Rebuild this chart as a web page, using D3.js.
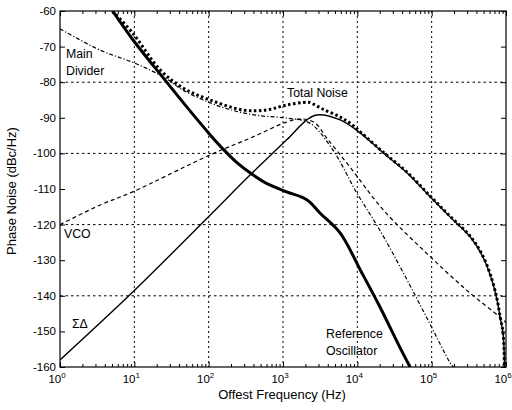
<!DOCTYPE html>
<html>
<head>
<meta charset="utf-8">
<script src="https://cdn.jsdelivr.net/npm/d3@7"></script>
<style>
  body { margin: 0; background: #fff; }
  text { font-family: "Liberation Sans", Arial, sans-serif; fill: #000; }
</style>
</head>
<body>
<div id="viz"></div>
<script>
// values: [offset frequency in Hz, phase noise in dBc/Hz]
var refOsc = [[5.1,-60],[9.5,-68],[24.5,-78.8],[51,-87],[105,-94.8],[160,-99],[240,-102.6],
  [380,-105.8],[600,-108.4],[1120,-110.8],[2090,-113],[3160,-116.8],[5890,-122.4],[11000,-132.8],
  [20000,-143],[37200,-154.4],[51300,-160]];
var totalNoise = [[5.1,-60],[9.5,-66.2],[22.4,-76.6],[45.7,-81.7],[105,-85],[288,-87.8],[603,-87.8],
  [1120,-86.4],[2090,-85.6],[2290,-85.7],[3470,-87.6],[5890,-89.8],[8000,-91.5],[11000,-94],
  [22400,-99.7],[46800,-105.3],[95500,-112],[178000,-117.7],[331000,-123.3],[490000,-128.9],
  [646000,-135.4],[759000,-141],[832000,-145.8],[912000,-150.3],[955000,-160]];
var sigmaDelta = [[1,-158],[10,-138.5],[95,-118.2],[363,-106],[1120,-96.2],[2090,-90.6],[2820,-89.2],
  [5890,-90.6],[11000,-94.3],[22400,-99.9],[46800,-105.5],[95500,-112.2],[178000,-117.9],
  [331000,-123.5],[490000,-129.1],[646000,-135.6],[759000,-141.2],[832000,-146],[912000,-150.5],
  [955000,-160]];
var mainDivider = [[1,-65],[3.47,-71],[10,-74.6],[24.5,-78.5],[45.7,-82.3],[105,-85.8],[200,-87.8],
  [447,-89.3],[1120,-90.1],[2290,-91.5],[4680,-99],[9770,-111],[20000,-121.5],[41700,-133.6],
  [85100,-146],[178000,-158.9],[195000,-160]];
var vco = [[1,-120],[3.47,-114.5],[9.5,-110.8],[105,-100.4],[363,-95.7],[1120,-91.2],[1800,-90.3],
  [2700,-91.5],[3980,-96],[7940,-103.8],[22400,-115.9],[85100,-128],[295000,-138.4],
  [832000,-146],[1000000,-147.5]];

var yTicks = [-60,-70,-80,-90,-100,-110,-120,-130,-140,-150,-160];
var yGrid = [-80,-100,-120,-140];
var xDecades = [0,1,2,3,4,5,6];

var W = 512, H = 410;
var svg = d3.select('#viz').append('svg').attr('width', W).attr('height', H);

var x = d3.scaleLog().domain([1, 1e6]).range([60, 506]);
var y = d3.scaleLinear().domain([-160, -60]).range([367, 11]);

var plot = svg.append('g');
plot.append('clipPath').attr('id', 'clip')
  .append('rect').attr('x', 60).attr('y', 11).attr('width', 446).attr('height', 356);

// grid
plot.selectAll('.hg').data(yGrid).enter().append('line')
  .attr('x1', 60).attr('x2', 506).attr('y1', d => y(d)).attr('y2', d => y(d))
  .attr('stroke', '#000').attr('stroke-width', 1).attr('stroke-dasharray', '2.5,3');
plot.selectAll('.vg').data(xDecades.slice(1, 6)).enter().append('line')
  .attr('y1', 11).attr('y2', 367).attr('x1', d => x(Math.pow(10, d))).attr('x2', d => x(Math.pow(10, d)))
  .attr('stroke', '#000').attr('stroke-width', 1).attr('stroke-dasharray', '2,3');

// curves
var line = d3.line().x(d => x(d[0])).y(d => y(d[1])).curve(d3.curveCatmullRom.alpha(0.5));
var cg = plot.append('g').attr('clip-path', 'url(#clip)');
cg.append('path').datum(vco).attr('d', line).attr('fill', 'none')
  .attr('stroke', '#000').attr('stroke-width', 1.2).attr('stroke-dasharray', '4,3');
cg.append('path').datum(mainDivider).attr('d', line).attr('fill', 'none')
  .attr('stroke', '#000').attr('stroke-width', 1.2).attr('stroke-dasharray', '4,2,1.2,2');
cg.append('path').datum(sigmaDelta).attr('d', line).attr('fill', 'none')
  .attr('stroke', '#000').attr('stroke-width', 1.4);
cg.append('path').datum(refOsc).attr('d', line).attr('fill', 'none')
  .attr('stroke', '#000').attr('stroke-width', 3);
cg.append('path').datum(totalNoise).attr('d', line).attr('fill', 'none')
  .attr('stroke', '#000').attr('stroke-width', 3).attr('stroke-dasharray', '2.5,2.5');

// frame
plot.append('rect').attr('x', 60).attr('y', 11).attr('width', 446).attr('height', 356)
  .attr('fill', 'none').attr('stroke', '#000').attr('stroke-width', 1.2);

// axes with inward ticks
var xMinor = [];
for (var e = 0; e < 6; e++) for (var m = 2; m < 10; m++) xMinor.push(m * Math.pow(10, e));
var xMajor = xDecades.map(d => Math.pow(10, d));

svg.append('g').attr('transform', 'translate(0,367)')
  .call(d3.axisTop(x).tickValues(xMinor).tickSize(3).tickFormat(''))
  .call(g => g.select('.domain').remove());
svg.append('g').attr('transform', 'translate(0,367)')
  .call(d3.axisTop(x).tickValues(xMajor).tickSize(5).tickFormat(''))
  .call(g => g.select('.domain').remove());
svg.append('g').attr('transform', 'translate(0,11)')
  .call(d3.axisBottom(x).tickValues(xMinor).tickSize(3).tickFormat(''))
  .call(g => g.select('.domain').remove());
svg.append('g').attr('transform', 'translate(0,11)')
  .call(d3.axisBottom(x).tickValues(xMajor).tickSize(5).tickFormat(''))
  .call(g => g.select('.domain').remove());
svg.append('g').attr('transform', 'translate(60,0)')
  .call(d3.axisRight(y).tickValues(yTicks).tickSize(5).tickFormat(''))
  .call(g => g.select('.domain').remove());
svg.append('g').attr('transform', 'translate(506,0)')
  .call(d3.axisLeft(y).tickValues(yTicks).tickSize(5).tickFormat(''))
  .call(g => g.select('.domain').remove());

// tick labels
svg.selectAll('.yl').data(yTicks).enter().append('text')
  .attr('x', 56).attr('y', d => y(d) + 4).attr('text-anchor', 'end')
  .attr('font-size', 11.5).text(d => d);

var xl = svg.selectAll('.xl').data(xDecades).enter().append('text')
  .attr('x', d => x(Math.pow(10, d)) - 3).attr('y', 383).attr('text-anchor', 'middle')
  .attr('font-size', 11.5);
xl.append('tspan').text('10');
xl.append('tspan').attr('dy', -5).attr('font-size', 8).text(d => d);

// axis titles
svg.append('text').attr('x', 282).attr('y', 399).attr('text-anchor', 'middle')
  .attr('font-size', 13).text('Offest Frequency (Hz)');
svg.append('text').attr('transform', 'translate(16,191) rotate(-90)').attr('text-anchor', 'middle')
  .attr('font-size', 13).text('Phase Noise (dBc/Hz)');

// curve labels
var labels = [
  ['Main', 66, 58], ['Divider', 66, 75], ['Total Noise', 287, 97], ['VCO', 64, 238],
  ['\u03A3\u0394', 72, 328], ['Reference', 326, 338], ['Oscillator', 326, 355]
];
svg.selectAll('.cl').data(labels).enter().append('text')
  .attr('x', d => d[1]).attr('y', d => d[2]).attr('font-size', 12.3).text(d => d[0]);
</script>
</body>
</html>
